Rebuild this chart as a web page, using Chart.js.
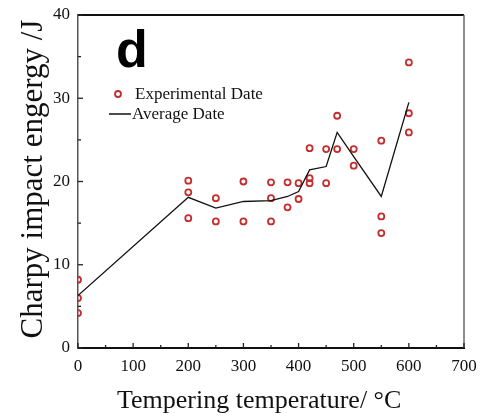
<!DOCTYPE html>
<html>
<head>
<meta charset="utf-8">
<script src="https://cdn.jsdelivr.net/npm/chart.js@4.4.0/dist/chart.umd.min.js"></script>
<style>
  html, body { margin: 0; padding: 0; background: #fff; }
  #wrap { width: 480px; height: 420px; }
</style>
</head>
<body>
<div id="wrap"><canvas id="grafico" width="480" height="420"></canvas></div>
<script>
// pontos experimentais (temperatura de revenimento, energia Charpy)
const temperaturasExp = [0, 0, 0, 200, 200, 200, 250, 250, 300, 300, 350, 350, 350, 380, 380, 400, 400,
  420, 420, 420, 450, 450, 470, 470, 500, 500, 550, 550, 550, 600, 600, 600];
const energiasExp = [8.2, 6.0, 4.2, 20.1, 18.7, 15.6, 18.0, 15.2, 20.0, 15.2, 19.9, 18.0, 15.2, 19.9, 16.9, 19.8, 17.9,
  24.0, 20.4, 19.8, 23.9, 19.8, 27.9, 23.9, 23.9, 21.9, 24.9, 15.8, 13.8, 34.3, 28.2, 25.9];

// curva media
const temperaturasMedia = [0, 200, 250, 300, 350, 380, 400, 420, 450, 470, 500, 550, 600];
const energiasMedia = [6.3, 18.1, 16.8, 17.6, 17.7, 18.2, 18.8, 21.4, 21.8, 25.9, 23.0, 18.2, 29.5];

const ticksX = [0, 100, 200, 300, 400, 500, 600, 700];
const ticksY = [0, 10, 20, 30, 40];

const vermelho = '#c42e2e';
const serif = "'Liberation Serif', 'Times New Roman', serif";

const moldura = {
  id: 'moldura',
  afterDraw(chart) {
    const ctx = chart.ctx;
    const a = chart.chartArea;
    const sx = chart.scales.x;
    const sy = chart.scales.y;
    ctx.save();

    // topo e lado direito
    ctx.strokeStyle = '#111';
    ctx.lineWidth = 2;
    ctx.beginPath();
    ctx.moveTo(a.left, a.top);
    ctx.lineTo(a.right, a.top);
    ctx.stroke();
    ctx.strokeStyle = '#666';
    ctx.lineWidth = 1.5;
    ctx.beginPath();
    ctx.moveTo(a.right, a.top);
    ctx.lineTo(a.right, a.bottom);
    ctx.stroke();

    // ticks para dentro
    ctx.strokeStyle = '#222';
    ctx.lineWidth = 1.3;
    ticksX.forEach((v, i) => {
      const px = sx.getPixelForValue(v);
      ctx.beginPath(); ctx.moveTo(px, a.bottom); ctx.lineTo(px, a.bottom - 5); ctx.stroke();
      if (i < ticksX.length - 1) {
        const pm = sx.getPixelForValue(v + 50);
        ctx.beginPath(); ctx.moveTo(pm, a.bottom); ctx.lineTo(pm, a.bottom - 3); ctx.stroke();
      }
    });
    ticksY.forEach((v, i) => {
      const py = sy.getPixelForValue(v);
      ctx.beginPath(); ctx.moveTo(a.left, py); ctx.lineTo(a.left + 5, py); ctx.stroke();
      if (i < ticksY.length - 1) {
        const pm = sy.getPixelForValue(v + 5);
        ctx.beginPath(); ctx.moveTo(a.left, pm); ctx.lineTo(a.left + 3, pm); ctx.stroke();
      }
    });

    // letra do painel
    ctx.fillStyle = '#000';
    ctx.font = "bold 52px 'Liberation Sans', Arial, sans-serif";
    ctx.textAlign = 'left';
    ctx.textBaseline = 'alphabetic';
    ctx.fillText('d', 116, 67);

    // legenda
    ctx.strokeStyle = vermelho;
    ctx.lineWidth = 1.8;
    ctx.beginPath(); ctx.arc(118, 94, 3, 0, Math.PI * 2); ctx.stroke();
    ctx.strokeStyle = '#111';
    ctx.lineWidth = 1.5;
    ctx.beginPath(); ctx.moveTo(109, 114); ctx.lineTo(131, 114); ctx.stroke();
    ctx.fillStyle = '#111';
    ctx.font = '17px ' + serif;
    ctx.textBaseline = 'middle';
    ctx.fillText('Experimental Date', 135, 95);
    ctx.fillText('Average Date', 132, 115);

    // titulos dos eixos
    ctx.font = '26px ' + serif;
    ctx.textBaseline = 'alphabetic';
    ctx.fillText('Tempering temperature/ °C', 117, 408);
    ctx.save();
    ctx.translate(42, 179);
    ctx.rotate(-Math.PI / 2);
    ctx.textAlign = 'center';
    ctx.font = '31px ' + serif;
    ctx.fillText('Charpy impact engergy /J', 0, 0);
    ctx.restore();

    ctx.restore();
  }
};

const ctx = document.getElementById('grafico').getContext('2d');
const grafico = new Chart(ctx, {
  type: 'scatter',
  data: {
    datasets: [{
      label: 'Average Date',
      data: temperaturasMedia.map((t, i) => ({ x: t, y: energiasMedia[i] })),
      showLine: true,
      borderColor: '#111',
      borderWidth: 1.3,
      pointRadius: 0,
      fill: false,
      tension: 0
    }, {
      label: 'Experimental Date',
      data: temperaturasExp.map((t, i) => ({ x: t, y: energiasExp[i] })),
      showLine: false,
      pointRadius: 3,
      pointBorderWidth: 1.8,
      pointBorderColor: vermelho,
      pointBackgroundColor: 'rgba(0,0,0,0)'
    }]
  },
  options: {
    responsive: false,
    animation: false,
    layout: { padding: { left: 0, right: 16, top: 15, bottom: 0 } },
    plugins: { legend: { display: false }, tooltip: { enabled: false } },
    scales: {
      x: {
        type: 'linear',
        min: 0,
        max: 700,
        afterFit: s => { s.height = 72; s.paddingLeft = 0; s.paddingRight = 0; },
        afterBuildTicks: s => { s.ticks = ticksX.map(v => ({ value: v })); },
        grid: { display: false },
        border: { display: true, color: '#111', width: 2 },
        ticks: { color: '#111', padding: 0, font: { family: serif, size: 17 }, maxRotation: 0 }
      },
      y: {
        type: 'linear',
        min: 0,
        max: 40,
        afterFit: s => { s.width = 78; s.paddingTop = 0; s.paddingBottom = 0; },
        afterBuildTicks: s => { s.ticks = ticksY.map(v => ({ value: v })); },
        grid: { display: false },
        border: { display: true, color: '#555', width: 1.5 },
        ticks: { color: '#111', padding: 0, font: { family: serif, size: 17 } }
      }
    }
  },
  plugins: [moldura]
});
</script>
</body>
</html>
